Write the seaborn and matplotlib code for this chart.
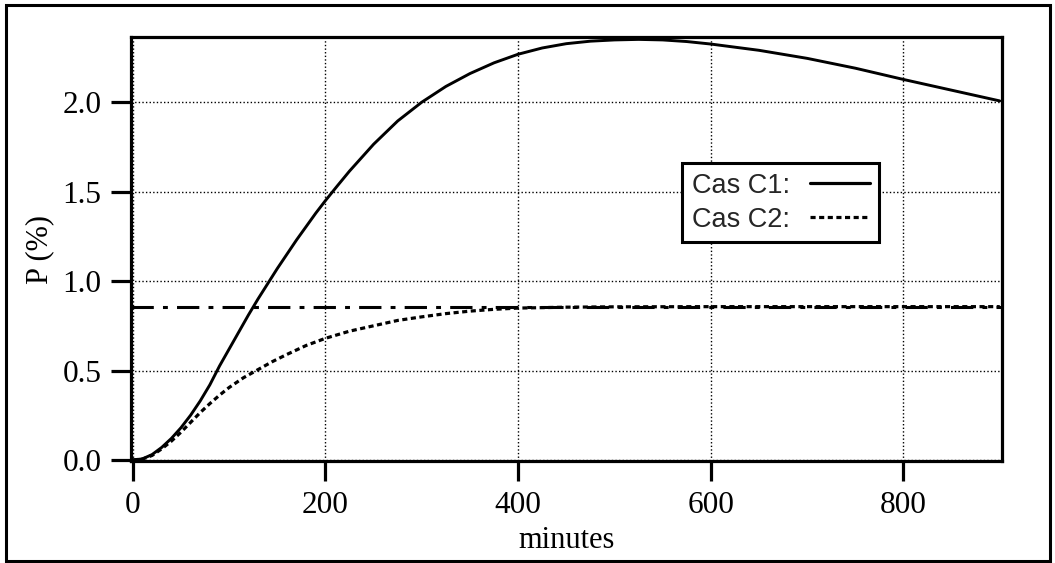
import numpy as np
import pandas as pd
import matplotlib
matplotlib.use("Agg")
import matplotlib.pyplot as plt
from matplotlib.patches import Rectangle
import seaborn as sns

# ---- data ----
c1_minutes = [0, 10, 20, 30, 40, 50, 60, 70, 80, 90, 100, 110, 120, 130, 140, 150,
              160, 170, 180, 190, 200, 212, 225, 250, 275, 300, 325, 350, 375, 400,
              425, 450, 475, 500, 525, 550, 575, 600, 650, 700, 750, 800, 850, 900]
c1_values = [0.0, 0.006, 0.03, 0.07, 0.12, 0.18, 0.25, 0.33, 0.42, 0.525, 0.62, 0.715,
             0.81, 0.9, 0.985, 1.07, 1.15, 1.23, 1.305, 1.38, 1.45, 1.53, 1.615, 1.765,
             1.895, 2.0, 2.088, 2.16, 2.22, 2.268, 2.303, 2.327, 2.341, 2.348, 2.351,
             2.348, 2.339, 2.325, 2.29, 2.245, 2.19, 2.127, 2.067, 2.007]
c2_minutes = [0, 10, 20, 30, 40, 50, 60, 70, 80, 90, 100, 115, 130, 145, 160, 180,
              200, 225, 250, 275, 300, 325, 350, 375, 400, 450, 500, 600, 700, 800, 900]
c2_values = [0.0, 0.005, 0.025, 0.062, 0.105, 0.155, 0.21, 0.265, 0.315, 0.362, 0.405,
             0.46, 0.505, 0.55, 0.59, 0.64, 0.68, 0.72, 0.75, 0.78, 0.80, 0.818,
             0.832, 0.842, 0.849, 0.854, 0.856, 0.857, 0.857, 0.857, 0.857]
plateau = 0.857
x_ticks = [0, 200, 400, 600, 800]
y_ticks = [0.0, 0.5, 1.0, 1.5, 2.0]
series_labels = ["Cas C1:", "Cas C2:"]
x_label = "minutes"
y_label = "P (%)"

df1 = pd.DataFrame({"minutes": c1_minutes, "P": c1_values})
df2 = pd.DataFrame({"minutes": c2_minutes, "P": c2_values})

sns.set_theme(style="white")
plt.rcParams["font.family"] = ["Liberation Serif", "DejaVu Serif"]

fig = plt.figure(figsize=(10.55, 5.63), dpi=100)
ax = fig.add_axes([0.1245, 0.1805, 0.9495 - 0.1245, 0.9348 - 0.1805])

sns.lineplot(data=df1, x="minutes", y="P", ax=ax, color="black", lw=2.1,
             label=series_labels[0], estimator=None, sort=False)
sns.lineplot(data=df2, x="minutes", y="P", ax=ax, color="black", lw=2.3,
             label=series_labels[1], estimator=None, sort=False)
ax.lines[1].set_dashes((1.6, 1.1))
ax.axhline(plateau, color="black", lw=2.2, dashes=(7.3, 3.0, 1.6, 3.0))

ax.set_xlim(-1.5, 902)
ax.set_ylim(-0.008, 2.366)
ax.set_xticks(x_ticks)
ax.set_yticks(y_ticks)
ax.set_xticklabels([str(v) for v in x_ticks])
ax.set_yticklabels([f"{v:.1f}" for v in y_ticks])

ax.grid(True, color="black", lw=1.0, linestyle=(0, (1, 1.6)))
for s in ax.spines.values():
    s.set_color("black")
    s.set_linewidth(2.3)
ax.tick_params(axis="both", direction="out", length=14.5, width=2.3,
               labelsize=22.5, colors="black", bottom=True, left=True)
ax.tick_params(axis="x", pad=7)
ax.tick_params(axis="y", pad=7)
ax.set_xlabel(x_label, fontsize=22, labelpad=4, color="black")
ax.set_ylabel(y_label, fontsize=22, labelpad=6, color="black")

leg = ax.legend(loc="upper left", bbox_to_anchor=(0.633, 0.702), borderaxespad=0,
                markerfirst=False, frameon=True, fancybox=False, framealpha=1,
                edgecolor="black", prop={"family": "Liberation Sans", "size": 19.5},
                handlelength=2.2, handletextpad=0.75, labelspacing=0.3,
                borderpad=0.35)
leg.get_frame().set_linewidth(2.2)
for h in leg.get_lines():
    h.set_linewidth(2.3)

# outer frame around the whole figure
fig.patches.append(Rectangle((6 / 1055, 2 / 563), 1044 / 1055, 556 / 563,
                             transform=fig.transFigure, fill=False,
                             edgecolor="black", lw=2.2))

fig.savefig("out.png", dpi=100)
